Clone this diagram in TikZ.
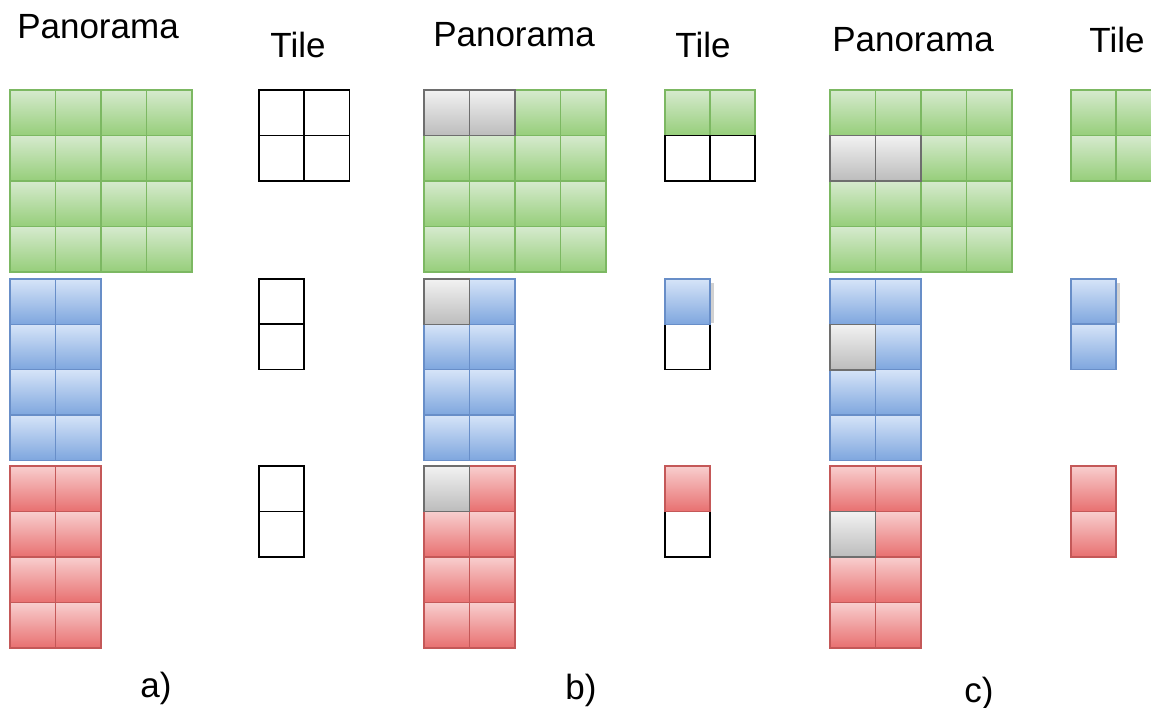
\documentclass[tikz,border=0pt]{standalone}
\usepackage{fontspec}
\setmainfont{Liberation Sans}
\definecolor{gtop}{RGB}{214,234,206}
\definecolor{gbot}{RGB}{150,206,122}
\definecolor{gbrd}{RGB}{124,184,98}
\definecolor{btop}{RGB}{214,228,248}
\definecolor{bbot}{RGB}{126,166,222}
\definecolor{bbrd}{RGB}{104,142,200}
\definecolor{rtop}{RGB}{248,206,206}
\definecolor{rbot}{RGB}{232,112,112}
\definecolor{rbrd}{RGB}{196,88,88}
\definecolor{ytop}{RGB}{242,242,242}
\definecolor{ybot}{RGB}{188,188,188}
\definecolor{ybrd}{RGB}{110,110,110}
\tikzset{
  gcell/.style={draw=gbrd, top color=gtop, bottom color=gbot, line width=1.4pt},
  bcell/.style={draw=bbrd, top color=btop, bottom color=bbot, line width=1.4pt},
  rcell/.style={draw=rbrd, top color=rtop, bottom color=rbot, line width=1.4pt},
  ycell/.style={draw=ybrd, top color=ytop, bottom color=ybot, line width=1.5pt},
  ecell/.style={draw=black, fill=white, line width=1.4pt},
  lbl/.style={font=\fontsize{35}{40}\selectfont, inner sep=0pt},
  shad/.style={fill=black!18, draw=none}
}
\newcommand\mycell[4]{\path[#4] (#1,#2) rectangle ++(45.5,45.5);}
\newcommand\tcell[4]{\path[#4] (#1,#2) rectangle ++(45,45.5);}
\begin{document}
\begin{tikzpicture}[x=1pt,y=-1pt]
\useasboundingbox (0,0) rectangle (1151,708);
\begin{scope}
\clip (0,0) rectangle (1151,708);
% panoramas
\foreach \X/\p in {10/a,424/b,830/c}{
  \foreach \i in {0,...,3}{\foreach \j in {0,...,3}{
    \mycell{\X+\i*45.5}{90+\j*45.5}{}{gcell}
  }}
  \foreach \i in {0,1}{\foreach \j in {0,...,3}{
    \mycell{\X+\i*45.5}{279+\j*45.3}{}{bcell}
    \mycell{\X+\i*45.5}{466+\j*45.5}{}{rcell}
  }}
}
% gray cells panel b
\mycell{424}{90}{}{ycell}
\mycell{469.5}{90}{}{ycell}
\mycell{424}{279}{}{ycell}
\mycell{424}{466}{}{ycell}
% gray cells panel c
\mycell{830}{135.5}{}{ycell}
\mycell{875.5}{135.5}{}{ycell}
\mycell{830}{324.3}{}{ycell}
\mycell{830}{511.5}{}{ycell}
% tiles a
\foreach \i in {0,1}{\foreach \j in {0,1}{\tcell{259+\i*45.5}{90+\j*45.5}{}{ecell}}}
\tcell{259}{279}{}{ecell}\tcell{259}{324}{}{ecell}
\tcell{259}{466}{}{ecell}\tcell{259}{511.5}{}{ecell}
% tiles b
\path[shad] (710,283) rectangle (714,323);
\tcell{665}{90}{}{gcell}\tcell{710}{90}{}{gcell}
\tcell{665}{135.5}{}{ecell}\tcell{710}{135.5}{}{ecell}
\tcell{665}{324}{}{ecell}
\tcell{665}{279}{}{bcell}
\tcell{665}{511.5}{}{ecell}
\tcell{665}{466}{}{rcell}
% tiles c
\path[shad] (1116,283) rectangle (1120,323);
\foreach \i in {0,1}{\foreach \j in {0,1}{\tcell{1071+\i*45}{90+\j*45.5}{}{gcell}}}
\tcell{1071}{279}{}{bcell}\tcell{1071}{324}{}{bcell}
\tcell{1071}{466}{}{rcell}\tcell{1071}{511.5}{}{rcell}
\end{scope}
% labels
\node[lbl] (pa) at (98,27) {Panorama};
\node[lbl] (ta) at (298,45) {Tile};
\node[lbl] (pb) at (514,35) {Panorama};
\node[lbl] (tb) at (703,45) {Tile};
\node[lbl] (pc) at (913,40) {Panorama};
\node[lbl] (tc) at (1117,40) {Tile};
\node[lbl] (la) at (156,688) {a)};
\node[lbl] (lb) at (581,690) {b)};
\node[lbl] (lc) at (979,693) {c)};
\end{tikzpicture}
\end{document}
